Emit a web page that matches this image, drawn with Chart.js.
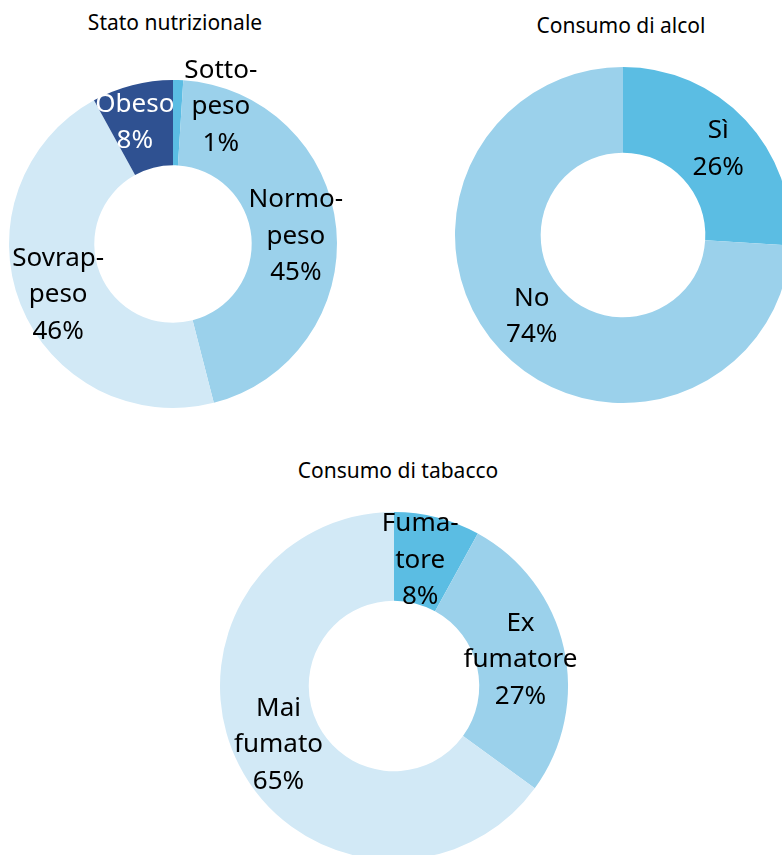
<!DOCTYPE html>
<html>
<head>
<meta charset="utf-8">
<script src="https://cdn.jsdelivr.net/npm/chart.js@4/dist/chart.umd.min.js"></script>
<style>
  html, body { margin: 0; padding: 0; background: #fff; }
  body { width: 782px; height: 855px; position: relative; overflow: hidden; font-family: "Noto Sans", sans-serif; }
  .title { position: absolute; font-size: 21px; line-height: 28px; color: #000; transform: translateX(-50%); white-space: nowrap; }
  canvas { position: absolute; }
</style>
</head>
<body>
<div class="title" id="t1" style="left:175px; top:8px;">Stato nutrizionale</div>
<div class="title" id="t2" style="left:621px; top:11px;">Consumo di alcol</div>
<div class="title" id="t3" style="left:398px; top:456px;">Consumo di tabacco</div>
<canvas id="nutri"></canvas>
<canvas id="alcol"></canvas>
<canvas id="tabacco"></canvas>
<script>
// data
const nutriLabels = [["Sotto-", "peso"], ["Normo-", "peso"], ["Sovrap-", "peso"], ["Obeso"]];
const nutriValues = [1, 45, 46, 8];
const alcolLabels = [["Sì"], ["No"]];
const alcolValues = [26, 74];
const tabaccoLabels = [["Fuma-", "tore"], ["Ex", "fumatore"], ["Mai", "fumato"]];
const tabaccoValues = [8, 27, 65];

const C_MID = '#5BBDE3';
const C_LIGHT = '#9BD1EB';
const C_PALE = '#D2E9F6';
const C_DARK = '#2F5191';

const PAD = 40;

// draws the "name / value%" labels on each slice
const sliceLabels = {
  id: 'sliceLabels',
  afterDatasetsDraw(chart, args, opts) {
    const ctx = chart.ctx;
    const meta = chart.getDatasetMeta(0);
    const ds = chart.data.datasets[0];
    ctx.save();
    ctx.font = '26px "Noto Sans", sans-serif';
    ctx.textAlign = 'center';
    ctx.textBaseline = 'middle';
    meta.data.forEach((arc, i) => {
      const p = arc.tooltipPosition();
      const nudge = (opts.nudge && opts.nudge[i]) || [0, 0];
      const lines = chart.data.labels[i].concat([ds.data[i] + '%']);
      const lh = 36.5;
      const y0 = p.y + nudge[1] - (lines.length - 1) * lh / 2;
      ctx.fillStyle = (opts.colors && opts.colors[i]) || '#000';
      lines.forEach((t, k) => ctx.fillText(t, p.x + nudge[0], y0 + k * lh));
    });
    ctx.restore();
  }
};

function makeDonut(id, cx, cy, r, cutout, labels, values, colors, labelOpts) {
  const cv = document.getElementById(id);
  const size = 2 * r + 2 * PAD;
  cv.width = size;
  cv.height = size;
  cv.style.left = (cx - r - PAD) + 'px';
  cv.style.top = (cy - r - PAD) + 'px';
  return new Chart(cv.getContext('2d'), {
    type: 'doughnut',
    data: {
      labels: labels,
      datasets: [{
        data: values,
        backgroundColor: colors,
        borderWidth: 0,
        hoverOffset: 0
      }]
    },
    options: {
      responsive: false,
      animation: false,
      cutout: cutout,
      layout: { padding: PAD },
      plugins: {
        legend: { display: false },
        tooltip: { enabled: false },
        sliceLabels: labelOpts
      }
    },
    plugins: [sliceLabels]
  });
}

makeDonut('nutri', 173, 244, 164, '48%', nutriLabels, nutriValues,
  [C_MID, C_LIGHT, C_PALE, C_DARK],
  { nudge: [[44, -16], [2, 4], [-2, 6], [-8, -4]], colors: ['#000', '#000', '#000', '#fff'] });

makeDonut('alcol', 623, 235, 168, '49%', alcolLabels, alcolValues,
  [C_MID, C_LIGHT],
  { nudge: [[4, 0], [0, -4]] });

makeDonut('tabacco', 394, 686, 174, '49%', tabaccoLabels, tabaccoValues,
  [C_MID, C_LIGHT, C_PALE],
  { nudge: [[-6, 0], [0, 2], [0, 0]] });
</script>
</body>
</html>
